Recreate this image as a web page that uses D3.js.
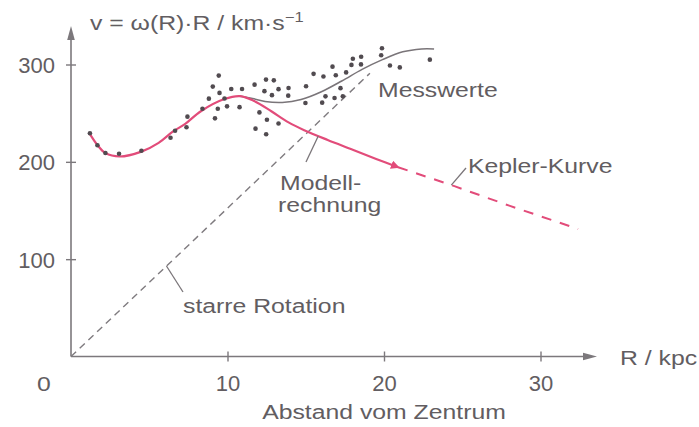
<!DOCTYPE html>
<html>
<head>
<meta charset="utf-8">
<script src="https://cdn.jsdelivr.net/npm/d3@7"></script>
<style>
  html, body { margin: 0; padding: 0; background: #ffffff; }
  svg { display: block; }
  text { font-family: "Liberation Sans", Arial, Helvetica, sans-serif; fill: #625d61; }
</style>
</head>
<body>
<svg id="chart" width="699" height="427"></svg>
<script>
// Rotationskurve der Milchstraße: v(R) in km/s gegen Abstand R in kpc

// Modellrechnung (durchgezogen, rot)
const modelR = [1.15, 1.7, 2.2, 3.1, 4.5, 5.6, 6.5, 7.3, 8.3, 9.8, 10.8, 11.7, 12.8, 13.9, 14.9, 16.4, 18.0, 19.5, 20.9];
const modelV = [230, 217, 209, 205.5, 210.5, 219.5, 231, 239, 252, 264.5, 267.5, 262.5, 252, 240.5, 232.5, 222.5, 212.5, 203, 194.5];

// Ausgleichskurve durch die Messwerte (grau)
const fitR = [10.8, 11.6, 12.4, 13.5, 14.7, 16.0, 17.3, 18.6, 19.9, 21.2, 22.4, 23.2];
const fitV = [267.5, 265, 262, 261, 264, 272, 283, 295, 305, 313, 316, 316];

// Kepler-Kurve (gestrichelt, rot)
const keplerR = [20.9, 24.5, 28.0, 32.4];
const keplerV = [194.5, 175, 155, 131];

// starre Rotation: v proportional zu R (gestrichelt, grau)
const rigidR = [0, 19.1];
const rigidV = [0, 291];

// Messwerte (Punkte)
const dotR = [1.21, 1.69, 2.20, 3.07, 4.50, 6.36, 6.65, 7.44, 7.38, 9.20, 8.40, 8.81, 9.06, 9.44, 9.49,
              9.81, 9.38, 9.97, 10.24, 10.93, 10.77, 11.73, 12.46, 12.96, 12.36, 12.84, 13.26, 13.90, 13.88,
              12.04, 12.52, 13.26, 11.79, 12.47, 15.02, 14.98, 15.50, 16.13, 16.71, 16.92, 16.26, 16.05,
              16.84, 17.58, 18.01, 17.92, 18.54, 18.53, 17.22, 17.37, 19.87, 19.82, 20.38, 21.01, 22.93];
const dotV = [229.4, 217.1, 209.1, 208.3, 211.4, 224.8, 232.0, 246.4, 235.6, 244.7, 254.6, 264.9, 277.3, 288.6, 270.8,
              265.1, 254.6, 257.0, 274.9, 274.9, 256.2, 279.3, 284.5, 283.7, 272.6, 268.5, 274.7, 275.9, 268.0,
              250.8, 243.3, 239.4, 234.1, 228.4, 277.6, 260.5, 290.4, 287.6, 297.8, 288.9, 267.3, 260.8,
              265.6, 291.9, 305.9, 299.6, 307.9, 300.1, 275.7, 267.3, 316.7, 309.5, 298.9, 297.0, 305.0];

const xTicks = [10, 20, 30];
const yTicks = [100, 200, 300];

const svg = d3.select("#chart");
const x = d3.scaleLinear().domain([0, 30]).range([71, 540.5]);
const y = d3.scaleLinear().domain([0, 300]).range([356.5, 64.5]);

const axisColor = "#7c787c";
const textColor = "#625d61";
const pink = "#e24c7a";
const xEnd = 597, yTop = 26;
const scaleX = 1.18;

// Achsen
const gy = svg.append("g").attr("transform", `translate(${x(0)},0)`)
  .call(d3.axisLeft(y).tickValues(yTicks).tickSize(5).tickFormat(d3.format("d")));
gy.select(".domain").remove();
gy.selectAll(".tick line").attr("x1", -5).attr("x2", 5).attr("stroke", axisColor).attr("stroke-width", 1.4);
gy.selectAll(".tick text").attr("x", -16).attr("dy", "0.36em")
  .style("font-size", "22px").style("fill", textColor).style("font-family", "Liberation Sans, Arial, sans-serif");

const gx = svg.append("g").attr("transform", `translate(0,${y(0)})`)
  .call(d3.axisBottom(x).tickValues(xTicks).tickSize(5).tickFormat(d3.format("d")));
gx.select(".domain").remove();
gx.selectAll(".tick line").attr("y1", -5).attr("y2", 5).attr("stroke", axisColor).attr("stroke-width", 1.4);
gx.selectAll(".tick text").attr("y", 34).attr("dy", 0)
  .style("font-size", "22px").style("fill", textColor).style("font-family", "Liberation Sans, Arial, sans-serif");

svg.append("line").attr("x1", x(0)).attr("x2", x(0)).attr("y1", y(0)).attr("y2", yTop + 10)
  .attr("stroke", axisColor).attr("stroke-width", 1.6);
svg.append("line").attr("x1", x(0)).attr("x2", xEnd - 10).attr("y1", y(0)).attr("y2", y(0))
  .attr("stroke", axisColor).attr("stroke-width", 1.6);
svg.append("path").attr("d", `M${x(0)},${yTop} L${x(0) - 3.8},${yTop + 14} L${x(0) + 3.8},${yTop + 14} Z`)
  .attr("fill", axisColor);
svg.append("path").attr("d", `M${xEnd},${y(0)} L${xEnd - 14},${y(0) - 3.8} L${xEnd - 14},${y(0) + 3.8} Z`)
  .attr("fill", axisColor);

// Textbeschriftung (leicht breit laufende Schrift)
function label(px, py, txt, anchor, size) {
  return svg.append("text")
    .attr("transform", `translate(${px},${py}) scale(${scaleX},1)`)
    .attr("text-anchor", anchor || "start")
    .style("font-size", (size || 21) + "px")
    .text(txt);
}

label(44, y(0) + 34, "0", "middle", 21);
label(620, 365, "R / kpc");
label(384, 419, "Abstand vom Zentrum", "middle");

const title = svg.append("text")
  .attr("transform", `translate(90,30) scale(${scaleX},1)`)
  .style("font-size", "21px");
title.append("tspan").text("v = ω(R)·R / km·s");
title.append("tspan").attr("dy", -8).style("font-size", "14px").text("−1");

// Linien
const line = d3.line().x(d => x(d[0])).y(d => y(d[1]));
const smooth = d3.line().x(d => x(d[0])).y(d => y(d[1])).curve(d3.curveCatmullRom.alpha(0.5));

svg.append("path").datum(d3.zip(rigidR, rigidV)).attr("d", line)
  .attr("fill", "none").attr("stroke", "#7f7b7f").attr("stroke-width", 1.4).attr("stroke-dasharray", "7,5");

svg.append("path").datum(d3.zip(fitR, fitV)).attr("d", smooth)
  .attr("fill", "none").attr("stroke", "#7a7579").attr("stroke-width", 1.6);

svg.append("path").datum(d3.zip(keplerR, keplerV)).attr("d", line)
  .attr("fill", "none").attr("stroke", pink).attr("stroke-width", 2).attr("stroke-dasharray", "10,9");

svg.append("defs").append("marker")
  .attr("id", "head").attr("viewBox", "0 0 10 10").attr("refX", 8).attr("refY", 5)
  .attr("markerWidth", 4).attr("markerHeight", 4).attr("orient", "auto")
  .append("path").attr("d", "M0,0 L10,5 L0,10 Z").attr("fill", pink);

svg.append("path").datum(d3.zip(modelR, modelV)).attr("d", smooth)
  .attr("fill", "none").attr("stroke", pink).attr("stroke-width", 2.2)
  .attr("marker-end", "url(#head)");

// Messpunkte
svg.append("g").selectAll("circle").data(d3.zip(dotR, dotV)).join("circle")
  .attr("cx", d => x(d[0])).attr("cy", d => y(d[1])).attr("r", 2.3)
  .attr("fill", "#514b50");

// Hinweislinien und Beschriftungen
const leader = (x1, y1, x2, y2) => svg.append("line")
  .attr("x1", x1).attr("y1", y1).attr("x2", x2).attr("y2", y2)
  .attr("stroke", "#7a7579").attr("stroke-width", 1.3);

leader(x(15.8), y(226.5), 306, 162);
leader(x(24.3), y(176), 466, 168);
leader(x(6.1), y(93), 183, 292);

label(378, 97, "Messwerte");
label(280, 190, "Modell-");
label(278, 212, "rechnung");
label(468, 173, "Kepler-Kurve");
label(183, 313, "starre Rotation");
</script>
</body>
</html>
